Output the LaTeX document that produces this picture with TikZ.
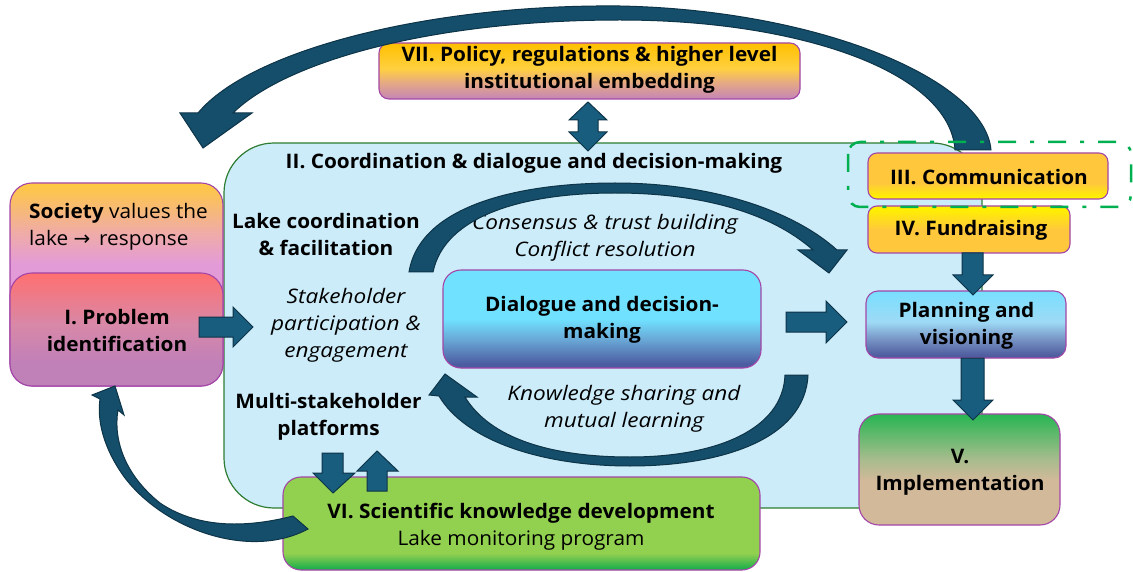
\documentclass[tikz,border=0pt]{standalone}
\usepackage{fontspec}
\setmainfont{Open Sans}[FakeStretch=1.04]
\newfontfamily\wideitalic{Open Sans}[FakeStretch=1.13]
\newfontfamily\arrowfont{DejaVu Sans}

% palette
\definecolor{lakebg}{RGB}{204,236,250}
\definecolor{lakeedge}{RGB}{46,125,50}
\definecolor{boxedge}{RGB}{164,70,168}
\definecolor{arrowfill}{RGB}{24,92,126}
\definecolor{arrowedge}{RGB}{14,52,72}
\definecolor{dashgreen}{RGB}{0,176,80}

\definecolor{socTop}{RGB}{255,201,64}
\definecolor{socMid}{RGB}{240,172,165}
\definecolor{socBot}{RGB}{227,155,216}
\definecolor{probTop}{RGB}{255,112,112}
\definecolor{probMid}{RGB}{216,136,168}
\definecolor{probBot}{RGB}{192,128,184}
\definecolor{polTop}{RGB}{255,192,0}
\definecolor{polMid}{RGB}{255,208,64}
\definecolor{polLow}{RGB}{230,170,130}
\definecolor{polBot}{RGB}{200,138,176}
\definecolor{comTop}{RGB}{255,200,60}
\definecolor{comBot}{RGB}{255,240,0}
\definecolor{plaTop}{RGB}{120,223,255}
\definecolor{plaMid}{RGB}{158,218,245}
\definecolor{plaLow}{RGB}{122,152,200}
\definecolor{plaBot}{RGB}{79,92,158}
\definecolor{diaTop}{RGB}{112,226,255}
\definecolor{diaLow}{RGB}{106,170,216}
\definecolor{diaBot}{RGB}{76,92,160}
\definecolor{impTop}{RGB}{45,182,85}
\definecolor{impMid}{RGB}{165,188,140}
\definecolor{impBot}{RGB}{210,185,154}
\definecolor{sciTop}{RGB}{146,208,80}
\definecolor{sciBot}{RGB}{32,176,76}

% vertical shadings: the box spans 25bp (bottom) to 75bp (top)
\pgfdeclareverticalshading{societyshade}{100bp}{color(0bp)=(socBot); color(55bp)=(socBot); color(63bp)=(socMid); color(75bp)=(socTop); color(100bp)=(socTop)}
\pgfdeclareverticalshading{problemshade}{100bp}{color(0bp)=(probBot); color(35bp)=(probBot); color(52bp)=(probMid); color(75bp)=(probTop); color(100bp)=(probTop)}
\pgfdeclareverticalshading{policyshade}{100bp}{color(0bp)=(polBot); color(27bp)=(polBot); color(40bp)=(polLow); color(52bp)=(polMid); color(75bp)=(polTop); color(100bp)=(polTop)}
\pgfdeclareverticalshading{commshade}{100bp}{color(0bp)=(comBot); color(27bp)=(comBot); color(42bp)=(comTop); color(100bp)=(comTop)}
\pgfdeclareverticalshading{fundshade}{100bp}{color(0bp)=(comTop); color(50bp)=(comTop); color(72bp)=(comBot); color(100bp)=(comBot)}
\pgfdeclareverticalshading{planshade}{100bp}{color(0bp)=(plaBot); color(27bp)=(plaBot); color(40bp)=(plaLow); color(52bp)=(plaMid); color(75bp)=(plaTop); color(100bp)=(plaTop)}
\pgfdeclareverticalshading{dialogshade}{100bp}{color(0bp)=(diaBot); color(27bp)=(diaBot); color(40bp)=(diaLow); color(50bp)=(diaTop); color(100bp)=(diaTop)}
\pgfdeclareverticalshading{implshade}{100bp}{color(0bp)=(impBot); color(45bp)=(impBot); color(55bp)=(impMid); color(74bp)=(impTop); color(100bp)=(impTop)}
\pgfdeclareverticalshading{scienceshade}{100bp}{color(0bp)=(sciBot); color(26bp)=(sciBot); color(34bp)=(sciTop); color(100bp)=(sciTop)}

\tikzset{
  txt/.style={font=\fontsize{20}{27}\selectfont, align=center, inner sep=0pt},
  boldtxt/.style={txt, font=\fontsize{20}{27}\selectfont\bfseries},
  ittxt/.style={txt, font=\fontsize{20}{27}\selectfont\wideitalic\itshape},
  stagebox/.style={draw=boxedge, line width=1.1pt, inner sep=0pt, shade},
  blockarrow/.style={fill=arrowfill, draw=arrowedge, line width=1pt, line join=miter},
  curvearrow/.style={fill=arrowfill!85!black, draw=arrowedge, line width=1pt, line join=miter},
}

\begin{document}
\begin{tikzpicture}[x=1pt, y=-1pt]
\useasboundingbox (0,0) rectangle (1133,572);

% central coordination area
\node[fill=lakebg, draw=lakeedge, line width=1.2pt, rounded corners=50pt,
      minimum width=758pt, minimum height=365pt, inner sep=0pt] (lake) at (603,325.5) {};

% stage boxes
\node[stagebox, shading=societyshade, rounded corners=22pt,
      minimum width=213pt, minimum height=203pt] (society) at (116.5,284.5) {};
\node[stagebox, shading=problemshade, rounded corners=22pt,
      minimum width=213pt, minimum height=113pt] (problem) at (116.5,329.5) {};
\node[stagebox, shading=policyshade, rounded corners=10pt,
      minimum width=421pt, minimum height=56pt] (policy) at (589.5,71) {};
\node[stagebox, shading=scienceshade, rounded corners=18pt,
      minimum width=477pt, minimum height=93pt] (science) at (521.5,523.5) {};
\node[stagebox, shading=dialogshade, rounded corners=18pt,
      minimum width=318pt, minimum height=98pt] (dialog) at (602,319) {};
\node[stagebox, shading=planshade, rounded corners=12pt,
      minimum width=200pt, minimum height=67pt] (plan) at (966,324.5) {};
\node[stagebox, shading=implshade, rounded corners=20pt,
      minimum width=201pt, minimum height=111pt] (impl) at (959.5,469.5) {};
\node[stagebox, shading=commshade, rounded corners=9pt,
      minimum width=240pt, minimum height=46pt] (comm) at (988,176) {};
\node[stagebox, shading=fundshade, rounded corners=9pt,
      minimum width=202pt, minimum height=47pt] (fund) at (969,229.5) {};

% labels
\node[txt, align=left, anchor=west] (societytxt) at (29,227) {\textbf{Society} values the\\lake {\arrowfont →}\, response};
\node[boldtxt] (problemtxt) at (117,330) {I. Problem\\identification};
\node[boldtxt] (policytxt) at (589.5,70) {VII. Policy, regulations \& higher level\\institutional embedding};
\node[boldtxt] (commtxt) at (989,177) {III. Communication};
\node[boldtxt] (fundtxt) at (971,230) {IV. Fundraising};
\node[boldtxt] (plantxt) at (966.5,326) {Planning and\\visioning};
\node[boldtxt] (impltxt) at (960,472) {V.\\Implementation};
\node[boldtxt] (dialogtxt) at (602,320) {Dialogue and decision-\\making};
\node[txt] (sciencetxt) at (521,527) {\textbf{VI. Scientific knowledge development}\\Lake monitoring program};
\node[boldtxt] (laketitle) at (534,163) {II. Coordination \& dialogue and decision-making};
\node[boldtxt] (facil) at (326,234) {Lake coordination\\\& facilitation};
\node[ittxt] (partic) at (346,325) {Stakeholder\\participation \&\\engagement};
\node[boldtxt] (platforms) at (328.5,417) {Multi-stakeholder\\platforms};
\node[ittxt] (consensus) at (605,238) {Consensus \& trust building\\Conflict resolution};
\node[ittxt] (knowledge) at (624,409) {Knowledge sharing and\\mutual learning};

% straight block arrows
\draw[blockarrow] (199,317) -- (233,317) -- (233,307) -- (253,327) -- (233,347) -- (233,337) -- (199,337) -- cycle;
\draw[blockarrow] (786,312) -- (826,312) -- (826,301) -- (847,322) -- (826,343) -- (826,332) -- (786,332) -- cycle;
\draw[blockarrow] (962,253) -- (983,253) -- (983,275) -- (993,275) -- (973,295) -- (953,275) -- (962,275) -- cycle;
\draw[blockarrow] (961,358) -- (984,358) -- (984,400) -- (993,400) -- (973,420) -- (953,400) -- (961,400) -- cycle;
\draw[blockarrow] (588,102) -- (607,120) -- (598,120) -- (598,132) -- (607,132) -- (588,151)
   -- (569,132) -- (578,132) -- (578,120) -- (569,120) -- cycle;
\draw[blockarrow] (322,453) -- (343,453) -- (343,473) -- (355,473) -- (333,493) -- (313,473) -- (322,473) -- cycle;
\draw[blockarrow] (367,491) -- (387,491) -- (387,471) -- (398,471) -- (377,451) -- (357,471) -- (367,471) -- cycle;

% curved arrow over the dialogue box
\draw[curvearrow] (409,272) .. controls (420,205) and (520,183) .. (615,183)
   .. controls (715,183) and (795,212) .. (837,250) -- (847,250) -- (829,273) -- (798,250) -- (813,250)
   .. controls (770,212) and (700,193) .. (615,193)
   .. controls (525,193) and (445,215) .. (433,272) -- cycle;

% curved arrow under the dialogue box
\draw[curvearrow] (808,375) .. controls (805,440) and (720,466) .. (630,466)
   .. controls (540,466) and (465,440) .. (439,396) -- (429,395) -- (445,374) -- (477,397) -- (465,397)
   .. controls (490,438) and (550,457) .. (630,457)
   .. controls (715,457) and (783,430) .. (785,375) -- cycle;

% arrow from scientific knowledge back to problem identification
\draw[curvearrow] (308,529) .. controls (250,560) and (165,530) .. (125,478)
   .. controls (103,448) and (97,420) .. (100,399) -- (92,395) -- (115,386) -- (124,415) -- (118,410)
   .. controls (113,440) and (125,475) .. (160,503)
   .. controls (200,530) and (250,527) .. (293,516) -- cycle;

% long arrow from communication back to society
\draw[curvearrow] (991,150) .. controls (985,80) and (820,10) .. (620,6)
   .. controls (430,4) and (250,50) .. (198,113) -- (180,113) -- (203,148) -- (252,113) -- (233,113)
   .. controls (285,62) and (430,20) .. (620,20)
   .. controls (800,20) and (950,72) .. (955,150) -- cycle;

% outreach frame round communication
\draw[dashgreen, line width=2.5pt, dash pattern=on 18pt off 14pt on 4pt off 14pt,
      rounded corners=12pt] (848,142) rectangle (1131,207);
\end{tikzpicture}
\end{document}
